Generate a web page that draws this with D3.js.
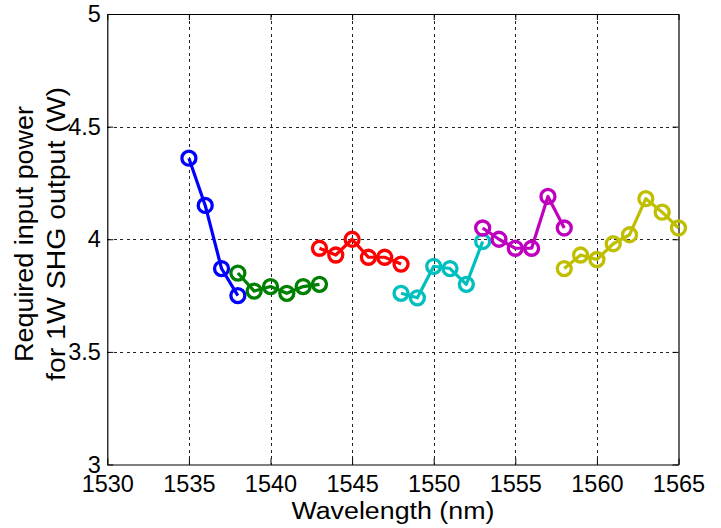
<!DOCTYPE html>
<html>
<head>
<meta charset="utf-8">
<script src="https://cdn.jsdelivr.net/npm/d3@7"></script>
<style>
  html, body { margin: 0; padding: 0; background: #fff; }
  svg { display: block; font-family: "Liberation Sans", Arial, sans-serif; }
</style>
</head>
<body>
<svg id="chart" width="721" height="528"></svg>
<script>
// Wavelength sweeps, one segment per colour
const blueWl = [1535, 1536, 1537, 1538];
const blueP = [4.36, 4.15, 3.87, 3.75];

const greenWl = [1538, 1539, 1540, 1541, 1542, 1543];
const greenP = [3.85, 3.77, 3.79, 3.76, 3.79, 3.80];

const redWl = [1543, 1544, 1545, 1546, 1547, 1548];
const redP = [3.96, 3.93, 4.00, 3.92, 3.92, 3.89];

const cyanWl = [1548, 1549, 1550, 1551, 1552, 1553];
const cyanP = [3.76, 3.74, 3.88, 3.87, 3.80, 3.99];

const magentaWl = [1553, 1554, 1555, 1556, 1557, 1558];
const magentaP = [4.05, 4.00, 3.96, 3.96, 4.19, 4.05];

const yellowWl = [1558, 1559, 1560, 1561, 1562, 1563, 1564, 1565];
const yellowP = [3.87, 3.93, 3.91, 3.98, 4.02, 4.18, 4.12, 4.05];

const xTicks = [1530, 1535, 1540, 1545, 1550, 1555, 1560, 1565];
const yTicks = [3, 3.5, 4, 4.5, 5];
const yTickLabels = ["3", "3.5", "4", "4.5", "5"];

const xTitle = "Wavelength (nm)";
const yTitleLines = ["Required input power", "for 1W SHG output (W)"];

const series = [
  { wl: blueWl, p: blueP, color: "#0000ff" },
  { wl: greenWl, p: greenP, color: "#008000" },
  { wl: redWl, p: redP, color: "#ff0000" },
  { wl: cyanWl, p: cyanP, color: "#00bfbf" },
  { wl: magentaWl, p: magentaP, color: "#bf00bf" },
  { wl: yellowWl, p: yellowP, color: "#bfbf00" }
];

const svg = d3.select("#chart");
const L = 107.3, T = 14, R = 678.5, B = 464.5;

const x = d3.scaleLinear().domain([1530, 1565]).range([L, R]);
const y = d3.scaleLinear().domain([3, 5]).range([B, T]);

const tickFont = 23.5;

// dotted grid
const grid = svg.append("g").attr("stroke", "#222").attr("stroke-width", 1)
  .attr("stroke-dasharray", "3,3.5").attr("shape-rendering", "crispEdges");
grid.selectAll("line.gx").data(xTicks.slice(1, -1)).join("line")
  .attr("x1", d => Math.round(x(d)) + 0.5).attr("x2", d => Math.round(x(d)) + 0.5)
  .attr("y1", T).attr("y2", B);
grid.selectAll("line.gy").data(yTicks.slice(1, -1)).join("line")
  .attr("x1", L).attr("x2", R)
  .attr("y1", d => Math.round(y(d)) + 0.5).attr("y2", d => Math.round(y(d)) + 0.5);

// axes with inward ticks
const xAxis = d3.axisBottom(x).tickValues(xTicks).tickFormat(d3.format("d"))
  .tickSizeInner(-6).tickSizeOuter(0);
const yAxis = d3.axisLeft(y).tickValues(yTicks).tickFormat((d, i) => yTickLabels[i])
  .tickSizeInner(-6).tickSizeOuter(0).tickPadding(6.5);
const xTop = d3.axisTop(x).tickValues(xTicks).tickSizeInner(-6).tickSizeOuter(0).tickFormat("");
const yRight = d3.axisRight(y).tickValues(yTicks).tickSizeInner(-6).tickSizeOuter(0).tickFormat("");

function styleAxis(g) {
  g.select(".domain").attr("stroke", "#000").attr("stroke-width", 1.2);
  g.selectAll(".tick line").attr("stroke", "#000").attr("stroke-width", 1);
  g.selectAll(".tick text").attr("fill", "#000")
    .style("font-size", tickFont + "px").style("font-family", "'Liberation Sans', Arial, sans-serif");
}

svg.append("g").attr("transform", `translate(0,${B})`).call(xAxis).call(styleAxis)
  .selectAll(".tick text").attr("dy", null).attr("y", 27.2);
svg.append("g").attr("transform", `translate(${L},0)`).call(yAxis).call(styleAxis);
svg.append("g").attr("transform", `translate(0,${T})`).call(xTop).call(styleAxis);
svg.append("g").attr("transform", `translate(${R},0)`).call(yRight).call(styleAxis);

// data segments: line then circle markers
const line = d3.line().x(d => x(d[0])).y(d => y(d[1]));
series.forEach(s => {
  const pts = s.wl.map((w, i) => [w, s.p[i]]);
  const g = svg.append("g");
  g.append("path").datum(pts).attr("d", line)
    .attr("fill", "none").attr("stroke", s.color).attr("stroke-width", 3.2)
    .attr("stroke-linejoin", "round");
  g.selectAll("circle").data(pts).join("circle")
    .attr("cx", d => x(d[0])).attr("cy", d => y(d[1])).attr("r", 7)
    .attr("fill", "none").attr("stroke", s.color).attr("stroke-width", 3.3);
});

// titles
svg.append("text").attr("x", (L + R) / 2).attr("y", 519.3)
  .attr("text-anchor", "middle").style("font-size", "23.5px").attr("fill", "#000")
  .attr("textLength", 203).attr("lengthAdjust", "spacingAndGlyphs")
  .text(xTitle);

const yt = svg.append("text").attr("transform", `translate(0,234) rotate(-90)`)
  .attr("text-anchor", "middle").style("font-size", "25.5px").attr("fill", "#000");
const yLens = [256, 294];
yTitleLines.forEach((t, i) => {
  yt.append("tspan").attr("x", 0).attr("y", 33.3 + i * 31.7)
    .attr("textLength", yLens[i]).attr("lengthAdjust", "spacingAndGlyphs").text(t);
});
</script>
</body>
</html>
